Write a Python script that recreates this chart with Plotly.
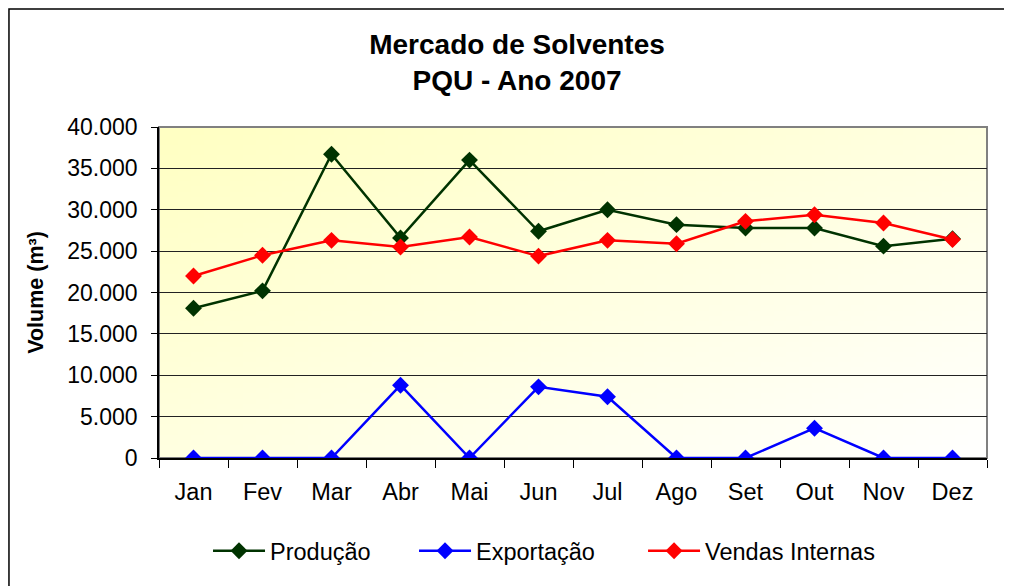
import base64, struct, zlib
import plotly.graph_objects as go

meses = ["Jan", "Fev", "Mar", "Abr", "Mai", "Jun", "Jul", "Ago", "Set", "Out", "Nov", "Dez"]
producao = [18100, 20200, 36700, 26600, 36000, 27400, 30000, 28200, 27800, 27800, 25600, 26500]
exportacao = [0, 0, 0, 8800, 0, 8600, 7400, 0, 0, 3600, 0, 0]
vendas_internas = [22000, 24500, 26300, 25500, 26700, 24400, 26300, 25900, 28600, 29400, 28400, 26400]
y_ticks = [0, 5000, 10000, 15000, 20000, 25000, 30000, 35000, 40000]


def gradient_png(w=64, h=64):
    rows = b""
    for j in range(h):
        row = b"\x00"
        for i in range(w):
            t = (i / (w - 1) + j / (h - 1)) / 2
            b = int(195 + (255 - 195) * t)
            row += bytes([255, 255, b])
        rows += row
    def chunk(tag, data):
        c = struct.pack(">I", len(data)) + tag + data
        return c + struct.pack(">I", zlib.crc32(tag + data) & 0xFFFFFFFF)
    png = b"\x89PNG\r\n\x1a\n"
    png += chunk(b"IHDR", struct.pack(">IIBBBBB", w, h, 8, 2, 0, 0, 0))
    png += chunk(b"IDAT", zlib.compress(rows))
    png += chunk(b"IEND", b"")
    return "data:image/png;base64," + base64.b64encode(png).decode()


font = "Liberation Sans, Arial, sans-serif"
fig = go.Figure()
series = [
    ("Produção", producao, "#003300", "legend"),
    ("Exportação", exportacao, "#0000FF", "legend2"),
    ("Vendas Internas", vendas_internas, "#FF0000", "legend3"),
]
for name, vals, color, leg in series:
    fig.add_trace(go.Scatter(
        x=meses, y=vals, name=name, mode="lines+markers", legend=leg,
        line=dict(color=color, width=2.5),
        marker=dict(symbol="diamond", size=13, color=color),
    ))

fig.add_layout_image(dict(
    source=gradient_png(), xref="paper", yref="paper", x=0, y=1,
    sizex=1, sizey=1, sizing="stretch", layer="below", xanchor="left", yanchor="top",
))

leg_common = dict(orientation="h", xanchor="left", y=-0.281, yanchor="middle",
                  font=dict(family=font, size=23.5), bgcolor="rgba(0,0,0,0)",
                  itemwidth=52)

fig.update_layout(
    width=1004, height=578,
    margin=dict(l=151, r=25, t=119, b=128),
    paper_bgcolor="white", plot_bgcolor="rgba(0,0,0,0)",
    separators=",.",
    font=dict(family=font, size=23, color="black"),
    title=dict(
        text="<b>Mercado de Solventes<br>PQU - Ano 2007</b>",
        x=0.507, xref="container", xanchor="center", y=0.921, yanchor="middle",
        font=dict(family=font, size=28, color="black"),
    ),
    showlegend=True,
    legend=dict(x=0.0592, **leg_common),
    legend2=dict(x=0.3080, **leg_common),
    legend3=dict(x=0.5846, **leg_common),
    xaxis=dict(
        showgrid=False, showline=True, linecolor="black", linewidth=1.5,
        ticks="outside", tickson="boundaries", ticklen=8, tickcolor="black",
        tickfont=dict(size=23.5), range=[-0.5, 11.5], ticklabelstandoff=12,
    ),
    yaxis=dict(
        range=[0, 40000], tickvals=y_ticks, tickformat=",d",
        showgrid=True, gridcolor="#222222", gridwidth=1,
        showline=True, linecolor="black", linewidth=1.5,
        ticks="outside", ticklen=6, tickcolor="black",
        tickfont=dict(size=23), zeroline=False, ticklabelstandoff=9,
        title=dict(text="<b>Volume (m³)</b>", font=dict(size=21.5), standoff=18),
    ),
    shapes=[
        dict(type="rect", xref="paper", yref="paper", x0=0, x1=1, y0=0, y1=1,
             line=dict(color="#808080", width=2), layer="below"),
        dict(type="rect", xref="paper", yref="paper", x0=-0.1812, x1=1.2, y0=-0.6, y1=1.3565,
             line=dict(color="black", width=1.5), layer="below"),
    ],
)

fig.write_html("out.html")
